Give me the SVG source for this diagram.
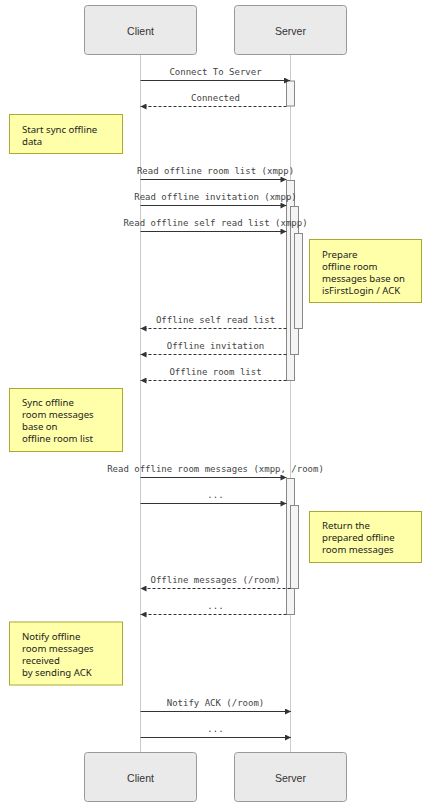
<svg xmlns="http://www.w3.org/2000/svg" width="426" height="807" viewBox="0 0 426 807">
<style>
.actor{fill:#eaeaea;stroke:#999;stroke-width:1}
.atext{font-family:"Liberation Sans",Arial,sans-serif;font-size:10.5px;fill:#333;text-anchor:middle}
.life{stroke:#ccc;stroke-width:1}
.act{fill:#f4f4f4;stroke:#888;stroke-width:1}
.note{fill:#ffffaa;stroke:#aaaa33;stroke-width:1}
.ntext{font-family:"Noto Sans","Open Sans",sans-serif;font-size:9.6px;fill:#222}
.msg{stroke:#333;stroke-width:1.2;fill:none}
.dash{stroke-dasharray:3,2}
.mtext{font-family:"DejaVu Sans Mono","Liberation Mono",monospace;font-size:9px;fill:#444;text-anchor:middle}
</style>
<defs>
<marker id="ah" viewBox="0 0 10 10" refX="10" refY="5" markerWidth="8" markerHeight="6" markerUnits="userSpaceOnUse" orient="auto">
<path d="M0,0 L10,5 L0,10 z" fill="#333"/>
</marker>
</defs>
<rect width="426" height="807" fill="#fff"/>
<g id="lifelines">
<line class="life" x1="140.5" y1="54" x2="140.5" y2="752"/>
<line class="life" x1="290.5" y1="54" x2="290.5" y2="752"/>
</g>
<g id="actor-client-top"><rect class="actor" x="84.5" y="5.5" width="112" height="49" rx="3"/><text class="atext" x="140.5" y="34.5">Client</text></g>
<g id="actor-server-top"><rect class="actor" x="234.5" y="5.5" width="112" height="49" rx="3"/><text class="atext" x="290.5" y="34.5">Server</text></g>
<g id="actor-client-bottom"><rect class="actor" x="84.5" y="752.5" width="112" height="49" rx="3"/><text class="atext" x="140.5" y="781.5">Client</text></g>
<g id="actor-server-bottom"><rect class="actor" x="234.5" y="752.5" width="112" height="49" rx="3"/><text class="atext" x="290.5" y="781.5">Server</text></g>
<g id="activations">
<rect class="act" x="286.5" y="81" width="8" height="25"/>
<rect class="act" x="286.5" y="180.5" width="8" height="200"/>
<rect class="act" x="290.5" y="206.5" width="8" height="148"/>
<rect class="act" x="294.5" y="233.5" width="8" height="95"/>
<rect class="act" x="286.5" y="478.5" width="8" height="136"/>
<rect class="act" x="290.5" y="505.5" width="8" height="83"/>
</g>
<g id="note-start"><rect class="note" x="9.5" y="114.5" width="113" height="39"/><text class="ntext" x="22" y="132.5">Start sync offline</text><text class="ntext" x="22" y="144.5">data</text></g>
<g id="note-prepare"><rect class="note" x="309.5" y="239.5" width="112" height="63"/><text class="ntext" x="322" y="257.5">Prepare</text><text class="ntext" x="322" y="269.5">offline room</text><text class="ntext" x="322" y="281.5">messages base on</text><text class="ntext" x="322" y="293.5">isFirstLogin / ACK</text></g>
<g id="note-sync"><rect class="note" x="9.5" y="388.5" width="113" height="63"/><text class="ntext" x="22" y="406">Sync offline</text><text class="ntext" x="22" y="418">room messages</text><text class="ntext" x="22" y="430">base on</text><text class="ntext" x="22" y="442">offline room list</text></g>
<g id="note-return"><rect class="note" x="309.5" y="511.5" width="112" height="51"/><text class="ntext" x="322" y="529">Return the</text><text class="ntext" x="322" y="541">prepared offline</text><text class="ntext" x="322" y="553">room messages</text></g>
<g id="note-notify"><rect class="note" x="9.5" y="622" width="113" height="63"/><text class="ntext" x="22" y="640">Notify offline</text><text class="ntext" x="22" y="652">room messages</text><text class="ntext" x="22" y="664">received</text><text class="ntext" x="22" y="676">by sending ACK</text></g>
<g id="connectors">
<line class="msg" x1="140.5" y1="80.5" x2="290" y2="80.5" marker-end="url(#ah)"/>
<text class="mtext" x="215.5" y="75">Connect To Server</text>
<line class="msg dash" x1="286.5" y1="106.5" x2="140.5" y2="106.5" marker-end="url(#ah)"/>
<text class="mtext" x="215.5" y="101">Connected</text>
<line class="msg" x1="140.5" y1="179.5" x2="286.5" y2="179.5" marker-end="url(#ah)"/>
<text class="mtext" x="215.5" y="174">Read offline room list (xmpp)</text>
<line class="msg" x1="140.5" y1="205.5" x2="286.5" y2="205.5" marker-end="url(#ah)"/>
<text class="mtext" x="215.5" y="200">Read offline invitation (xmpp)</text>
<line class="msg" x1="140.5" y1="231.5" x2="286.5" y2="231.5" marker-end="url(#ah)"/>
<text class="mtext" x="215.5" y="226">Read offline self read list (xmpp)</text>
<line class="msg dash" x1="286.5" y1="328.5" x2="140.5" y2="328.5" marker-end="url(#ah)"/>
<text class="mtext" x="215.5" y="323">Offline self read list</text>
<line class="msg dash" x1="286.5" y1="354.5" x2="140.5" y2="354.5" marker-end="url(#ah)"/>
<text class="mtext" x="215.5" y="349">Offline invitation</text>
<line class="msg dash" x1="286.5" y1="380.5" x2="140.5" y2="380.5" marker-end="url(#ah)"/>
<text class="mtext" x="215.5" y="375">Offline room list</text>
<line class="msg" x1="140.5" y1="477.5" x2="286.5" y2="477.5" marker-end="url(#ah)"/>
<text class="mtext" x="215.5" y="472">Read offline room messages (xmpp, /room)</text>
<line class="msg" x1="140.5" y1="503.5" x2="286.5" y2="503.5" marker-end="url(#ah)"/>
<text class="mtext" x="215.5" y="498">...</text>
<line class="msg dash" x1="290.5" y1="588.5" x2="140.5" y2="588.5" marker-end="url(#ah)"/>
<text class="mtext" x="215.5" y="583">Offline messages (/room)</text>
<line class="msg dash" x1="286.5" y1="614.5" x2="140.5" y2="614.5" marker-end="url(#ah)"/>
<text class="mtext" x="215.5" y="609">...</text>
<line class="msg" x1="140.5" y1="711.5" x2="291" y2="711.5" marker-end="url(#ah)"/>
<text class="mtext" x="215.5" y="706">Notify ACK (/room)</text>
<line class="msg" x1="140.5" y1="737.5" x2="291" y2="737.5" marker-end="url(#ah)"/>
<text class="mtext" x="215.5" y="732">...</text>
</g>
</svg>
